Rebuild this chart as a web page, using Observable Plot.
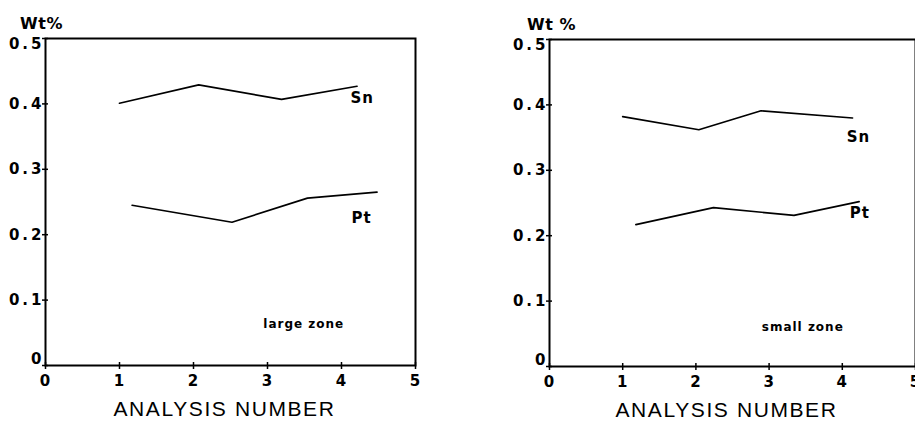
<!DOCTYPE html>
<html><head><meta charset="utf-8">
<script src="https://cdn.jsdelivr.net/npm/d3@7"></script>
<script src="https://cdn.jsdelivr.net/npm/@observablehq/plot@0.6"></script>
<style>
html,body{margin:0;padding:0;background:#fff;overflow:hidden;}
#wrap{position:relative;width:915px;height:421px;}
#left{position:absolute;left:0;top:0;}
#right{position:absolute;left:460px;top:0;}
#wrap g[aria-label="x-axis tick label"] text{letter-spacing:1px;}
#wrap g[aria-label="y-axis tick label"] text{letter-spacing:3px;}
#wrap .ls-title text{letter-spacing:1.6px;}
#wrap .ls-zone text{letter-spacing:1px;}
#wrap .ls-series text{letter-spacing:1px;}
#wrap .ls-wt text{letter-spacing:0.5px;}
</style></head><body><div id="wrap"><div id="left"></div><div id="right"></div></div>
<script>
// ---- data ----
const analysisTicks = [0, 1, 2, 3, 4, 5];
const wtTicks = [0, 0.1, 0.2, 0.3, 0.4, 0.5];
const wtTickLabels = ["0", "0.1", "0.2", "0.3", "0.4", "0.5"];
const xTitle = "ANALYSIS NUMBER";
const yTitleLarge = "Wt%";
const yTitleSmall = "Wt %";
const zoneLarge = "large zone";
const zoneSmall = "small zone";
const seriesNames = ["Sn", "Pt"];

// large zone
const largeSnX = [1.0, 2.07, 3.19, 4.21];
const largeSnY = [0.401, 0.429, 0.407, 0.427];
const largePtX = [1.17, 2.52, 3.54, 4.48];
const largePtY = [0.245, 0.219, 0.256, 0.265];
const largeLabelX = [4.28, 4.27];
const largeLabelY = [0.408, 0.226];
const largeZoneX = 3.49, largeZoneY = 0.063;

// small zone
const smallSnX = [1.0, 2.04, 2.89, 4.14];
const smallSnY = [0.382, 0.362, 0.391, 0.380];
const smallPtX = [1.18, 2.24, 3.34, 4.23];
const smallPtY = [0.217, 0.243, 0.231, 0.252];
const smallLabelX = [4.22, 4.24];
const smallLabelY = [0.350, 0.234];
const smallZoneX = 3.46, smallZoneY = 0.060;

const FONT = "'DejaVu Sans', 'Liberation Sans', sans-serif";
const fmtWt = d => wtTickLabels[wtTicks.indexOf(d)];

function pts(xs, ys) { return xs.map((x, i) => ({x, y: ys[i]})); }

function panel(o) {
  const labels = seriesNames.map((n, i) => ({name: n, x: o.labelX[i], y: o.labelY[i]}));
  const inner = wtTicks.slice(1, -1);
  const yLabelOpts = {tickSize: 0, tickPadding: 1, fontSize: 15, fontWeight: "bold", tickFormat: fmtWt, label: null};
  return Plot.plot({
    width: o.width, height: 421,
    marginLeft: o.ml, marginRight: o.mr, marginTop: o.mt, marginBottom: o.mb,
    x: {domain: [0, 5]},
    y: {domain: [0, 0.5]},
    style: {fontFamily: FONT, color: "#000", background: "transparent", overflow: "visible"},
    marks: [
      Plot.frame({stroke: "#000", strokeWidth: 2}),
      Plot.axisX({ticks: analysisTicks, tickSize: 7, dy: -3, tickPadding: 6, strokeWidth: 1.5,
        fontSize: 15, fontWeight: "bold", tickFormat: d => String(d), label: null}),
      // y tick marks (crossing the axis line)
      Plot.axisY({ticks: wtTicks, tickSize: 6, dx: 3, strokeWidth: 1.5, tickFormat: () => "", label: null}),
      // y tick labels (end labels nudged inward as in the reference)
      Plot.axisY({...yLabelOpts, ticks: inner}),
      Plot.axisY({...yLabelOpts, ticks: [wtTicks[wtTicks.length - 1]], dy: 6}),
      Plot.axisY({...yLabelOpts, ticks: [wtTicks[0]], dy: -6}),
      Plot.line(pts(o.snX, o.snY), {x: "x", y: "y", stroke: "#000", strokeWidth: 1.7}),
      Plot.line(pts(o.ptX, o.ptY), {x: "x", y: "y", stroke: "#000", strokeWidth: 1.7}),
      Plot.text(labels, {x: "x", y: "y", text: "name", fontSize: 15, fontWeight: "bold", textAnchor: "middle", className: "ls-series"}),
      Plot.text([o.zone], {x: () => o.zoneX, y: () => o.zoneY, text: d => d, fontSize: 12, fontWeight: "bold", className: "ls-zone"}),
      Plot.text([xTitle], {frameAnchor: "bottom", lineAnchor: "middle", dy: 44, text: d => d, fontFamily: "'Liberation Sans', Arial, sans-serif", fontSize: 21, dx: o.titleDx, className: "ls-title"}),
      Plot.text([o.yTitle], {frameAnchor: "top-left", lineAnchor: "middle", dy: -15, dx: o.yTitleDx, text: d => d, fontSize: 16, fontWeight: "bold", textAnchor: "middle", className: "ls-wt"})
    ]
  });
}

document.getElementById("left").append(panel({
  width: 460, ml: 45, mr: 45, mt: 38, mb: 56,
  snX: largeSnX, snY: largeSnY, ptX: largePtX, ptY: largePtY,
  labelX: largeLabelX, labelY: largeLabelY,
  zone: zoneLarge, zoneX: largeZoneX, zoneY: largeZoneY,
  yTitle: yTitleLarge, yTitleDx: -4, titleDx: -6
}));
document.getElementById("right").append(panel({
  width: 455, ml: 89, mr: 0, mt: 39, mb: 55,
  snX: smallSnX, snY: smallSnY, ptX: smallPtX, ptY: smallPtY,
  labelX: smallLabelX, labelY: smallLabelY,
  zone: zoneSmall, zoneX: smallZoneX, zoneY: smallZoneY,
  yTitle: yTitleSmall, yTitleDx: 2, titleDx: -6
}));
</script></body></html>
